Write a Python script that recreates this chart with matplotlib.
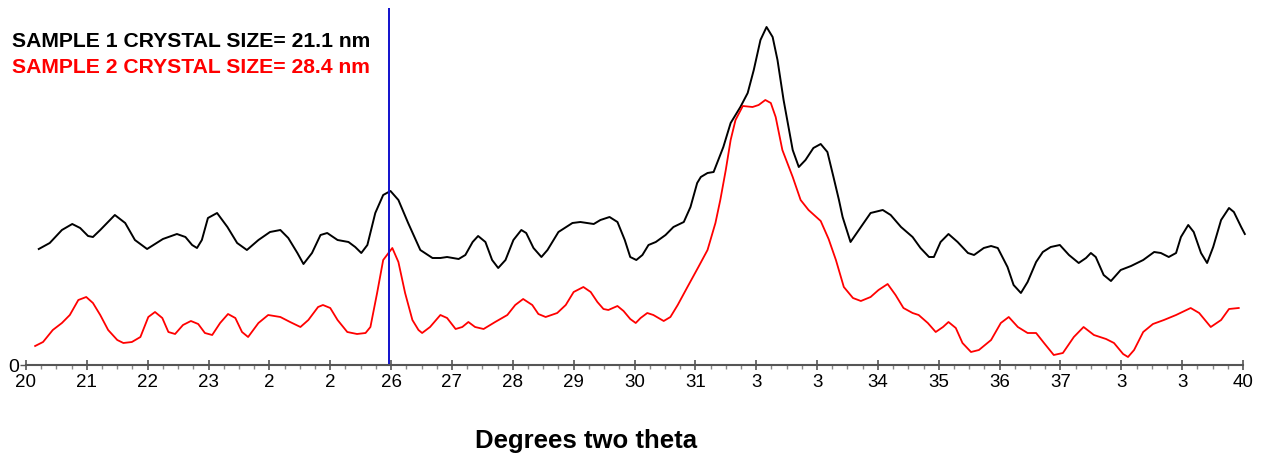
import matplotlib
matplotlib.use("Agg")
import matplotlib.pyplot as plt
from matplotlib.ticker import MultipleLocator

plt.rcParams['font.family'] = ['Liberation Sans', 'DejaVu Sans']

# two theta (degrees) and intensity (arbitrary units)
theta1 = [20.21, 20.39, 20.59, 20.76, 20.89, 21.02, 21.10, 21.22, 21.46, 21.63, 21.79, 21.99,
          22.25, 22.48, 22.62, 22.73, 22.81, 22.89, 22.99, 23.14, 23.31, 23.47, 23.63, 23.82,
          24.01, 24.18, 24.31, 24.46, 24.56, 24.70, 24.84, 24.95, 25.12, 25.30, 25.41, 25.51,
          25.61, 25.74, 25.87, 25.99, 26.12, 26.28, 26.48, 26.68, 26.81, 26.92, 27.11, 27.22,
          27.34, 27.43, 27.55, 27.66, 27.76, 27.88, 28.01, 28.14, 28.22, 28.34, 28.47, 28.57,
          28.75, 28.98, 29.11, 29.33, 29.44, 29.59, 29.72, 29.84, 29.93, 30.03, 30.13, 30.23,
          30.35, 30.51, 30.64, 30.81, 30.92, 31.03, 31.09, 31.20, 31.30, 31.46, 31.58, 31.74,
          31.86, 31.96, 32.07, 32.17, 32.27, 32.35, 32.45, 32.60, 32.70, 32.81, 32.94, 33.06,
          33.17, 33.27, 33.36, 33.42, 33.55, 33.72, 33.88, 34.08, 34.21, 34.38, 34.57, 34.70,
          34.84, 34.92, 35.03, 35.16, 35.31, 35.48, 35.58, 35.74, 35.86, 35.97, 36.13, 36.23,
          36.35, 36.46, 36.60, 36.71, 36.84, 36.99, 37.14, 37.30, 37.42, 37.50, 37.58, 37.71,
          37.83, 37.99, 38.16, 38.36, 38.54, 38.65, 38.78, 38.90, 38.98, 39.10, 39.19, 39.31,
          39.41, 39.51, 39.64, 39.77, 39.85, 39.97, 40.03]
sample1 = [116, 122, 135, 141, 137, 129, 128, 135, 150, 142, 125, 116,
           126, 131, 128, 120, 117, 125, 147, 152, 138, 122, 115, 125,
           133, 135, 127, 112, 101, 112, 130, 132, 125, 123, 118, 112,
           120, 152, 170, 174, 165, 142, 115, 107, 107, 108, 106, 110,
           123, 129, 123, 105, 97, 105, 125, 135, 132, 117, 108, 115,
           133, 142, 143, 141, 145, 148, 143, 125, 108, 105, 110, 120,
           123, 130, 138, 143, 158, 182, 188, 192, 193, 218, 242, 258,
           272, 295, 325, 338, 328, 305, 265, 215, 198, 205, 217, 221,
           213, 188, 165, 148, 123, 138, 152, 155, 150, 138, 128, 117,
           108, 108, 123, 131, 123, 112, 110, 117, 119, 117, 98, 80,
           72, 83, 103, 113, 118, 120, 110, 102, 107, 112, 108, 90,
           84, 95, 99, 105, 113, 112, 108, 112, 128, 140, 133, 112,
           102, 118, 145, 157, 153, 138, 131]

theta2 = [20.15, 20.28, 20.44, 20.59, 20.72, 20.86, 20.99, 21.10, 21.22, 21.35, 21.50, 21.60,
          21.74, 21.88, 22.01, 22.12, 22.24, 22.34, 22.45, 22.58, 22.71, 22.83, 22.94, 23.06,
          23.19, 23.32, 23.44, 23.55, 23.65, 23.82, 23.98, 24.18, 24.34, 24.51, 24.64, 24.80,
          24.88, 25.00, 25.12, 25.28, 25.44, 25.58, 25.66, 25.77, 25.87, 26.02, 26.12, 26.23,
          26.35, 26.45, 26.51, 26.64, 26.81, 26.92, 27.06, 27.17, 27.27, 27.38, 27.52, 27.71,
          27.91, 28.04, 28.17, 28.32, 28.42, 28.54, 28.73, 28.87, 29.00, 29.16, 29.28, 29.39,
          29.49, 29.57, 29.72, 29.82, 29.93, 30.02, 30.10, 30.21, 30.31, 30.48, 30.59, 30.71,
          30.87, 31.05, 31.20, 31.33, 31.41, 31.50, 31.58, 31.66, 31.78, 31.94, 32.04, 32.15,
          32.24, 32.32, 32.43, 32.60, 32.73, 32.86, 33.06, 33.19, 33.31, 33.44, 33.59, 33.72,
          33.88, 34.01, 34.16, 34.29, 34.42, 34.57, 34.67, 34.82, 34.95, 35.07, 35.16, 35.28,
          35.39, 35.53, 35.66, 35.86, 36.02, 36.15, 36.30, 36.46, 36.60, 36.73, 36.89, 37.04,
          37.22, 37.38, 37.55, 37.75, 37.88, 38.03, 38.11, 38.21, 38.36, 38.52, 38.70, 38.90,
          39.14, 39.28, 39.47, 39.64, 39.77, 39.93]
sample2 = [19, 23, 35, 42, 50, 65, 68, 62, 50, 35, 25, 22,
           23, 28, 48, 53, 47, 33, 31, 40, 44, 41, 32, 30,
           42, 51, 47, 33, 28, 42, 50, 48, 43, 38, 45, 58,
           60, 57, 45, 33, 31, 32, 38, 72, 105, 117, 103, 72,
           45, 35, 32, 38, 50, 47, 36, 38, 43, 38, 36, 43,
           50, 60, 66, 60, 51, 48, 52, 60, 73, 78, 73, 63,
           56, 55, 59, 54, 46, 42, 47, 52, 50, 44, 48, 60,
           78, 98, 115, 142, 165, 195, 225, 245, 259, 258, 260, 265,
           262, 248, 215, 188, 165, 155, 144, 126, 105, 78, 67, 64,
           68, 75, 81, 70, 57, 52, 50, 42, 33, 38, 43, 37,
           22, 13, 15, 25, 42, 48, 38, 32, 32, 22, 10, 12,
           28, 38, 30, 26, 22, 11, 8, 15, 33, 41, 45, 50,
           57, 52, 38, 45, 56, 57]

tick_pos = list(range(20, 41))
tick_labels = ["20", "21", "22", "23", "2", "2", "26", "27", "28", "29", "30",
               "31", "3", "3", "34", "35", "36", "37", "3", "3", "40"]
marker_theta = 25.97

fig = plt.figure(figsize=(12.75, 4.58), dpi=100)
ax = fig.add_axes([26 / 1275, 93 / 458, 1217 / 1275, 357 / 458])

ax.plot(theta1, sample1, color='black', lw=1.4, clip_on=False)
ax.plot(theta2, sample2, color='red', lw=1.3)
ax.axvline(marker_theta, color='#1010cc', lw=1.4)

ax.set_xlim(20, 40)
ax.set_ylim(0, 357)
for s in ['top', 'right', 'left']:
    ax.spines[s].set_visible(False)
ax.spines['bottom'].set_color('#555555')
ax.spines['bottom'].set_linewidth(1.5)

ax.set_xticks(tick_pos)
ax.set_xticklabels(tick_labels)
ax.xaxis.set_minor_locator(MultipleLocator(0.25))
ax.tick_params(axis='x', which='major', direction='inout', length=7, width=1.2,
               color='#555555', labelsize=13.5, pad=3)
ax.tick_params(axis='x', which='minor', direction='out', length=3, width=1,
               color='#888888')
ax.set_yticks([0])
ax.set_yticklabels(["0"])
ax.tick_params(axis='y', direction='out', length=4, width=1, color='#555555',
               labelsize=14, pad=1)

fig.text(586 / 1275, 1 - 448 / 458, "Degrees two theta", ha='center', va='baseline',
         fontsize=18.5, fontweight='bold')
fig.text(12 / 1275, 1 - 47 / 458, "SAMPLE 1 CRYSTAL SIZE= 21.1 nm", ha='left',
         va='baseline', fontsize=15.2, fontweight='bold', color='black')
fig.text(12 / 1275, 1 - 73 / 458, "SAMPLE 2 CRYSTAL SIZE= 28.4 nm", ha='left',
         va='baseline', fontsize=15.2, fontweight='bold', color='red')

plt.savefig("out.png", dpi=100)
